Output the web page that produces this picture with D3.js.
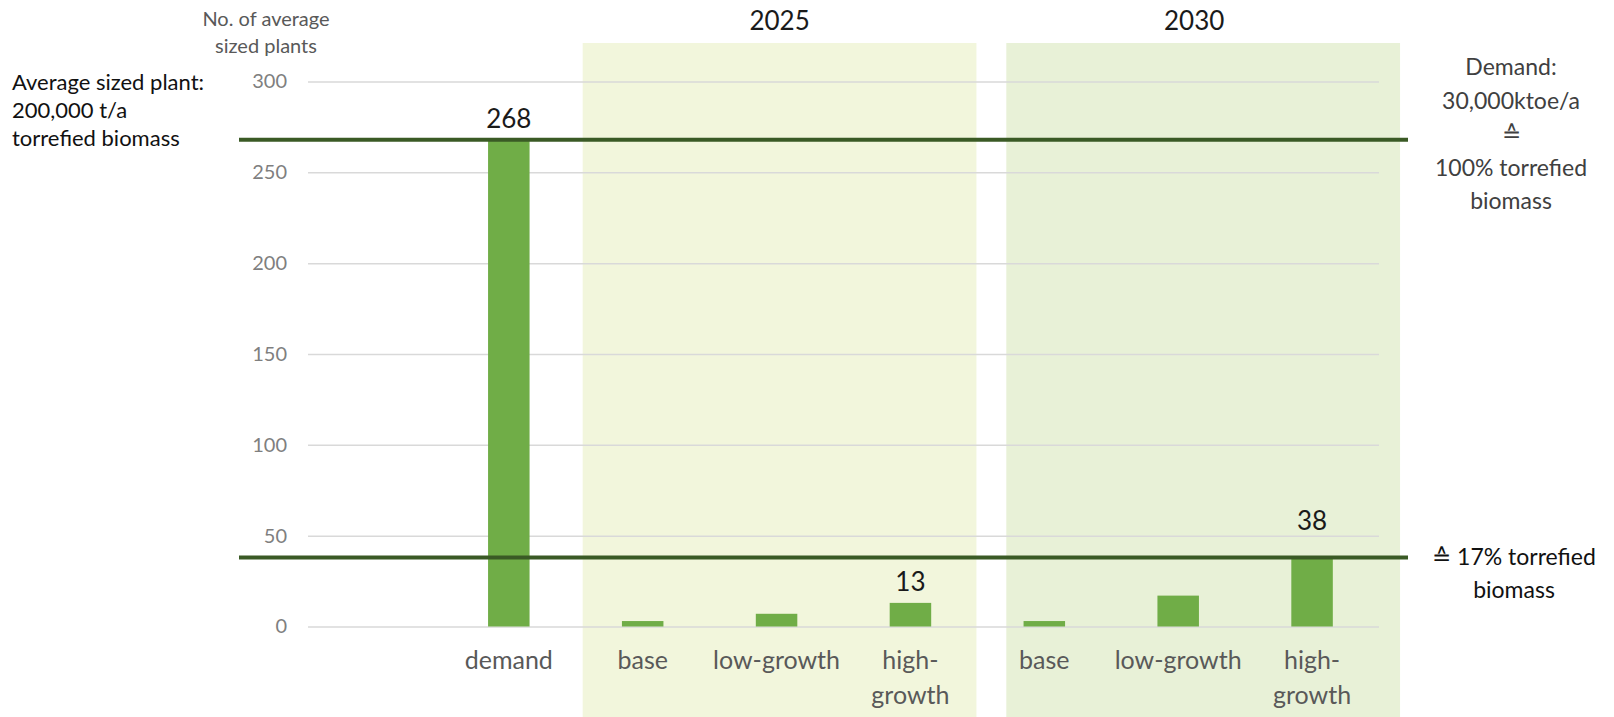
<!DOCTYPE html>
<html>
<head>
<meta charset="utf-8">
<script src="https://cdn.jsdelivr.net/npm/d3@7"></script>
<style>
  body { margin: 0; background: #fff; }
  svg { display: block; font-family: Lato, 'Open Sans', sans-serif; }
</style>
</head>
<body>
<div id="chart"></div>
<script>
// data
const categories = ['', 'demand', 'base', 'low-growth', 'high-growth', 'base', 'low-growth', 'high-growth'];
const values = [null, 268, 3, 7, 13, 3, 17, 38];
const showValue = [false, true, false, false, true, false, false, true];
const yTicks = [0, 50, 100, 150, 200, 250, 300];
const groupNames = ['2025', '2030'];
const groupFirst = [2, 5];
const groupLast = [4, 7];
const refValues = [268, 38];

const width = 1614, height = 717;
const margin = { top: 81.5, right: 235, bottom: 90.5, left: 308 };

// layout / styling
const groupColors = ['#f2f6dc', '#e8f1d7'];
const groupPadLeft = [60, 38];
const groupPadRight = [66, 88];
const groupTop = 43;

const svg = d3.select('#chart').append('svg')
  .attr('width', width)
  .attr('height', height);

const x = d3.scaleBand()
  .domain(d3.range(categories.length))
  .range([margin.left, width - margin.right])
  .paddingInner(0.69)
  .paddingOuter(0.345);

const y = d3.scaleLinear()
  .domain([0, 300])
  .range([height - margin.bottom, margin.top]);

const cx = i => x(i) + x.bandwidth() / 2;

// shaded year groups
groupNames.forEach((name, g) => {
  const x0 = cx(groupFirst[g]) - groupPadLeft[g];
  const x1 = cx(groupLast[g]) + groupPadRight[g];
  svg.append('rect')
    .attr('x', x0)
    .attr('y', groupTop)
    .attr('width', x1 - x0)
    .attr('height', height - groupTop)
    .attr('fill', groupColors[g]);
  svg.append('text')
    .attr('x', (x0 + x1) / 2 - (g == 1 ? 9 : 0))
    .attr('y', 30)
    .attr('text-anchor', 'middle')
    .attr('font-size', 26)
    .attr('fill', '#1a1a1a')
    .text(name);
});

// y axis: gridlines + labels
const yAxis = d3.axisLeft(y)
  .tickValues(yTicks)
  .tickSize(-(width - margin.left - margin.right))
  .tickPadding(21);

const ga = svg.append('g')
  .attr('transform', `translate(${margin.left},0)`)
  .call(yAxis);
ga.select('.domain').remove();
ga.selectAll('.tick line').attr('stroke', '#d9d9d9').attr('stroke-width', 1.5);
ga.selectAll('.tick text')
  .attr('font-size', 20)
  .attr('font-family', 'Lato, sans-serif')
  .attr('fill', '#7f7f7f');

// bars
svg.append('g').selectAll('rect')
  .data(values.map((v, i) => ({ v, i })).filter(d => d.v != null))
  .join('rect')
  .attr('x', d => x(d.i))
  .attr('y', d => y(d.v))
  .attr('width', x.bandwidth())
  .attr('height', d => y(0) - y(d.v))
  .attr('fill', '#70ad47');

// value labels, lifted above a reference line when they would sit on it
svg.append('g').selectAll('text')
  .data(values.map((v, i) => ({ v, i })).filter(d => showValue[d.i]))
  .join('text')
  .attr('x', d => cx(d.i))
  .attr('y', d => {
    let ly = y(d.v) - 12;
    refValues.forEach(r => {
      if (Math.abs(y(d.v) - y(r)) < 3 && d.v < 100) ly = y(r) - 27;
    });
    return ly;
  })
  .attr('text-anchor', 'middle')
  .attr('font-size', 26)
  .attr('fill', '#1a1a1a')
  .text(d => d.v);

// reference lines
svg.append('g').selectAll('line')
  .data(refValues)
  .join('line')
  .attr('x1', 239)
  .attr('x2', 1408)
  .attr('y1', d => y(d))
  .attr('y2', d => y(d))
  .attr('stroke', '#3a5a25')
  .attr('stroke-width', 4);

// category labels
const catG = svg.append('g');
categories.forEach((c, i) => {
  if (!c) return;
  const lines = c == 'high-growth' ? ['high-', 'growth'] : [c];
  const t = catG.append('text')
    .attr('x', cx(i))
    .attr('y', 669)
    .attr('text-anchor', 'middle')
    .attr('font-size', 25)
    .attr('fill', '#595959');
  lines.forEach((l, k) => {
    t.append('tspan').attr('x', cx(i)).attr('dy', k == 0 ? 0 : 35).text(l);
  });
});

// annotations
function block(lines, xPos, yPos, lh, opts) {
  const t = svg.append('text')
    .attr('x', xPos)
    .attr('y', yPos)
    .attr('text-anchor', opts.anchor)
    .attr('font-size', opts.size)
    .attr('fill', opts.color);
  lines.forEach((l, k) => {
    t.append('tspan').attr('x', xPos).attr('dy', k == 0 ? 0 : lh).text(l);
  });
}

block(['No. of average', 'sized plants'], 266, 26, 27, { anchor: 'middle', size: 20, color: '#595959' });
block(['Average sized plant:', '200,000 t/a', 'torrefied biomass'], 12, 90, 28, { anchor: 'start', size: 22, color: '#111' });
block(['Demand:', '30,000ktoe/a', '\u2259', '100% torrefied', 'biomass'], 1511, 75, 33.5, { anchor: 'middle', size: 23, color: '#404040' });
block(['\u2259 17% torrefied', 'biomass'], 1514, 565, 33, { anchor: 'middle', size: 23, color: '#111' });
</script>
</body>
</html>
